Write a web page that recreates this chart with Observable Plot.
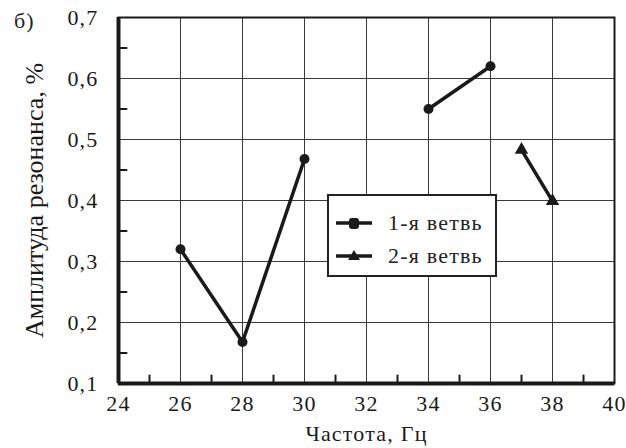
<!DOCTYPE html>
<html>
<head>
<meta charset="utf-8">
<script src="https://cdn.jsdelivr.net/npm/d3@7"></script>
<script src="https://cdn.jsdelivr.net/npm/@observablehq/plot@0.6"></script>
<style>
  html, body { margin: 0; padding: 0; background: #fff; }
  #wrap { position: relative; width: 626px; height: 448px; }
  #panel { position: absolute; left: 14px; top: 8px; color: #222; }
  #legend { position: absolute; left: 327px; top: 194px; width: 166px; height: 79px; border: 2px solid #222; background: #fff; color: #222; }
  .row { position: absolute; left: 6px; height: 22px; display: flex; align-items: center; }
  .row svg { display: block; }
  .row span { margin-left: 15px; line-height: 22px; }
</style>
</head>
<body>
<div id="wrap">
  <div id="chart"></div>
  <div id="panel" style="font-family:'Liberation Serif'; font-size:22px; letter-spacing:1px">б)</div>
  <div id="legend" style="font-family:'Liberation Serif'; font-size:22px; letter-spacing:1.2px"></div>
</div>
<script>
// Data
const seriesNames = ["1-я ветвь", "2-я ветвь"];
const freq1 = [26, 28, 30, NaN, 34, 36];
const amp1 = [0.32, 0.168, 0.468, NaN, 0.55, 0.62];
const freq2 = [37, 38];
const amp2 = [0.483, 0.399];
const xTicks = [24, 26, 28, 30, 32, 34, 36, 38, 40];
const yTicks = [0.1, 0.2, 0.3, 0.4, 0.5, 0.6, 0.7];
const xMinor = [25, 27, 29, 31, 33, 35, 37, 39];
const yMinor = [0.15, 0.25, 0.35, 0.45, 0.55, 0.65];
const xLabel = "Частота, Гц";
const yLabel = "Амплитуда резонанса, %";

const s1 = freq1.map((f, i) => ({x: f, y: amp1[i]}));
const s2 = freq2.map((f, i) => ({x: f, y: amp2[i]}));
const comma = d => d3.format(".1f")(d).replace(".", ",");
const ink = "#1a1a1a";
const tickShape = {draw(context, l) { context.moveTo(0, 0); context.lineTo(0, -l); }};

const chart = Plot.plot({
  width: 626,
  height: 448,
  marginLeft: 118,
  marginRight: 12,
  marginTop: 17,
  marginBottom: 65,
  style: {fontFamily: "Liberation Serif", fontSize: "22px", color: ink, background: "transparent", overflow: "visible"},
  x: {domain: [24, 40]},
  y: {domain: [0.1, 0.7]},
  marks: [
    Plot.gridX(xTicks, {stroke: "#3a3a3a", strokeOpacity: 1, strokeWidth: 1}),
    Plot.gridY(yTicks, {stroke: "#3a3a3a", strokeOpacity: 1, strokeWidth: 1}),
    Plot.frame({stroke: ink, strokeWidth: 2}),
    Plot.ruleX([24], {stroke: ink, strokeWidth: 4}),
    Plot.ruleY([0.1], {stroke: ink, strokeWidth: 4}),
    Plot.vector(xMinor, {x: d => d, y: () => 0.1, length: 8, rotate: 0, anchor: "start", shape: tickShape, stroke: ink, strokeWidth: 2}),
    Plot.vector(yMinor, {x: () => 24, y: d => d, length: 8, rotate: 90, anchor: "start", shape: tickShape, stroke: ink, strokeWidth: 2}),
    Plot.axisX(xTicks, {tickSize: 0, tickPadding: 12, tickFormat: d => String(d), fontSize: 22, label: xLabel, labelAnchor: "center", labelOffset: 57, labelArrow: "none"}),
    Plot.axisY(yTicks, {tickSize: 0, tickPadding: 20, tickFormat: comma, fontSize: 22, label: null}),
    Plot.axisY({label: yLabel, labelAnchor: "center", labelOffset: 94, labelArrow: "none", ticks: [], tickSize: 0, fontSize: 26}),
    Plot.line(s1, {x: "x", y: "y", stroke: ink, strokeWidth: 3.5}),
    Plot.dot(s1, {x: "x", y: "y", r: 5, fill: ink, symbol: "circle"}),
    Plot.line(s2, {x: "x", y: "y", stroke: ink, strokeWidth: 3.5}),
    Plot.dot(s2, {x: "x", y: "y", r: 5, fill: ink, symbol: "triangle"})
  ]
});
d3.select(chart).selectAll("text")
  .attr("font-family", "Liberation Serif")
  .style("font-family", "'Liberation Serif'");
d3.select(chart).selectAll("g[aria-label='x-axis tick label'] text, g[aria-label='y-axis tick label'] text, g[aria-label='x-axis label'] text")
  .style("letter-spacing", "1.2px");
document.getElementById("chart").appendChild(chart);

// Legend
const legend = document.getElementById("legend");
seriesNames.forEach((name, i) => {
  const row = document.createElement("div");
  row.className = "row";
  row.style.top = (i === 0 ? 16 : 49) + "px";
  const sym = i === 0
    ? '<rect x="14" y="5" width="10" height="11" rx="3" fill="' + ink + '"/>'
    : '<path d="M19,4 L25,14 L13,14 Z" fill="' + ink + '"/>';
  row.innerHTML = '<svg width="38" height="20"><line x1="1" y1="10" x2="37" y2="10" stroke="' + ink + '" stroke-width="3.5"/>' + sym + '</svg><span>' + name + '</span>';
  legend.appendChild(row);
});
</script>
</body>
</html>
